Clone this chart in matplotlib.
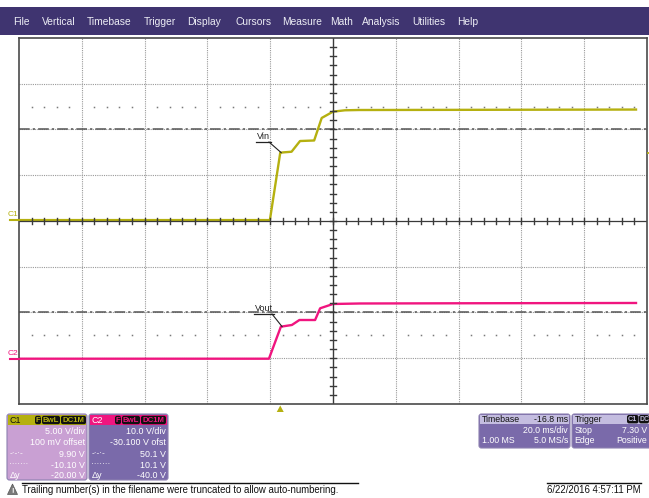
import matplotlib
matplotlib.use('Agg')
import matplotlib.pyplot as plt
from matplotlib.patches import Rectangle, FancyBboxPatch, Polygon
import numpy as np

plt.rcParams['font.family'] = ['Liberation Sans', 'DejaVu Sans']

# ---------------- data ----------------
menu_items = ['File', 'Vertical', 'Timebase', 'Trigger', 'Display', 'Cursors',
              'Measure', 'Math', 'Analysis', 'Utilities', 'Help']

vin_time_ms = [-83.2, -3.3, 0.0, 1.0, 3.6, 6.3, 10.8, 13.2, 16.8, 20.6, 25.0, 60.0, 113.3]
vin_V = [0.0, 0.0, 7.36, 7.40, 7.47, 8.64, 8.70, 11.16, 11.85, 12.00, 12.03, 12.05, 12.08]

vout_time_ms = [-83.2, -3.6, 0.2, 3.7, 6.1, 11.1, 12.7, 16.8, 25.4, 60.0, 113.3]
vout_V = [0.0, 0.0, 7.0, 7.37, 8.46, 8.46, 11.02, 11.96, 12.07, 12.12, 12.18]

c1_vdiv, c1_offset = 5.0, 0.1        # V/div, V
c2_vdiv, c2_offset = 10.0, -30.1
time_div_ms = 20.0
delay_ms = -16.8                     # trigger sits 16.8 ms left of centre
trigger_level_V = 7.30
cursor_c1 = [9.90, -10.10]
cursor_c2 = [50.1, 10.1]

c1_lines = ['5.00 V/div', '100 mV offset', '9.90 V', '-10.10 V', '-20.00 V']
c2_lines = ['10.0 V/div', '-30.100 V ofst', '50.1 V', '10.1 V', '-40.0 V']
row_keys = ['', '', '-·-·-', '·······', 'Δy']

# ---------------- colours ----------------
YEL = '#b5b010'
PINK = '#f0157f'
MENU = '#3f3470'
C1BODY = '#c9a0d3'
C2BODY = '#7a6aaa'

W, H = 649, 498
fig = plt.figure(figsize=(W / 100, H / 100), dpi=100)

L, T, R, B = 19, 38, 647, 404
ax = fig.add_axes([L / W, 1 - B / H, (R - L) / W, (B - T) / H])
ax.set_zorder(2)

ov = fig.add_axes([0, 0, 1, 1])
ov.set_xlim(0, W)
ov.set_ylim(H, 0)
ov.axis('off')
ov.set_zorder(3)
ov.patch.set_visible(False)

centre_t = -delay_ms
t0 = centre_t - 5 * time_div_ms
t1 = centre_t + 5 * time_div_ms
ax.set_xlim(t0, t1)
ax.set_ylim(-4, 4)
ax.set_xticks([])
ax.set_yticks([])
for s in ax.spines.values():
    s.set_color('#4a4a4a')
    s.set_linewidth(1.2)


def c1_div(v):
    return (np.asarray(v) + c1_offset) / c1_vdiv


def c2_div(v):
    return (np.asarray(v) + c2_offset) / c2_vdiv


# grid
for i in range(1, 10):
    if i != 5:
        ax.axvline(t0 + i * time_div_ms, color='#9a9a9a', lw=0.8, ls=(0, (1, 1)), zorder=1)
for j in range(-3, 4):
    if j != 0:
        ax.axhline(j, color='#9a9a9a', lw=0.8, ls=(0, (1, 1)), zorder=1)

# cursors (dash-dot)
for v in cursor_c2:
    ax.axhline(float(c2_div(v)), color='#555555', lw=1.1, ls=(0, (7, 2, 1.5, 2)), zorder=1.5)

# dotted rows at +-2.5 div
minor_t = [t0 + k * time_div_ms / 5 for k in range(1, 50) if k % 5 != 0]
for yy in (2.5, -2.5):
    ax.plot(minor_t, [yy] * len(minor_t), ls='none', marker='s', ms=1.1,
            mec='none', mfc='#7a7a7a', zorder=1.5)

# traces
ax.plot(vin_time_ms, c1_div(vin_V), color=YEL, lw=1.7, zorder=2, solid_joinstyle='round')
ax.plot(vout_time_ms, c2_div(vout_V), color=PINK, lw=1.7, zorder=2, solid_joinstyle='round')

# centre axes with minor ticks (drawn over traces, as on the scope)
ax.axhline(0, color='#3a3a3a', lw=0.9, zorder=2.5)
ax.axvline(centre_t, color='#3a3a3a', lw=1.0, zorder=2.5)
for t in [t0 + k * time_div_ms / 5 for k in range(1, 50)]:
    ax.plot([t, t], [-0.065, 0.065], color='#3a3a3a', lw=1.0, zorder=2.5)
for y in [-4 + k * 0.2 for k in range(1, 40)]:
    ax.plot([centre_t - 1.0, centre_t + 1.0], [y, y], color='#3a3a3a', lw=1.0, zorder=2.5)

fig.canvas.draw()


def d2p(t, y):
    X, Y = ax.transData.transform((t, y))
    return X, H - Y


# labels Vin / Vout with underline + leader
px, py = d2p(0.3, float(c1_div(7.37)))
ov.text(257, 140.5, 'Vin', fontsize=6.5, color='#222222', ha='left', va='bottom')
ov.plot([256, 271], [142, 142], color='#222222', lw=0.9)
ov.plot([269, px], [142, py], color='#222222', lw=0.8)

qx, qy = d2p(0.6, float(c2_div(7.0)))
ov.text(255, 312.5, 'Vout', fontsize=6.5, color='#222222', ha='left', va='bottom')
ov.plot([254, 274], [314, 314], color='#222222', lw=0.9)
ov.plot([272, qx], [314, qy], color='#222222', lw=0.8)

# channel markers on left
_, y1 = d2p(0, float(c1_div(0)))
ov.plot([10, L], [y1, y1], color=YEL, lw=1.5)
ov.text(8, y1 - 2, 'C1', fontsize=6, color=YEL, ha='left', va='bottom')
_, y2 = d2p(0, float(c2_div(0)))
ov.plot([10, L], [y2, y2], color=PINK, lw=1.5)
ov.text(8, y2 - 2, 'C2', fontsize=6, color=PINK, ha='left', va='bottom')

# trigger position / level markers
tx, _ = d2p(0.0, 0)
ov.add_patch(Polygon([[tx - 3.5, 412], [tx + 3.5, 412], [tx, 405.5]], closed=True,
                     fc=YEL, ec='none'))
_, ty = d2p(0, float(c1_div(trigger_level_V)))
ov.plot([R + 0.5, W], [ty, ty], color=YEL, lw=1.3)

# ---------------- menu bar ----------------
ov.add_patch(Rectangle((0, 7), W, 28, fc=MENU, ec='none'))
menu_x = [13, 42, 87, 144, 187, 235, 282, 330, 362, 412, 457]
for x, name in zip(menu_x, menu_items):
    ov.text(x, 21.5, name, fontsize=7.4, color='#ececf4', ha='left', va='center')


# ---------------- channel boxes ----------------
def badge(x0, x1, yc, text, tc, fs=5.6):
    ov.add_patch(FancyBboxPatch((x0, yc - 4.2), x1 - x0, 8.4,
                                boxstyle='round,pad=0,rounding_size=2',
                                fc='#111111', ec='none'))
    ov.text((x0 + x1) / 2, yc + 0.3, text, fontsize=fs, color=tc,
            ha='center', va='center', fontweight='bold')


def chan_box(x0, x1, body, head, label, labc, lines, badge_x):
    ov.add_patch(FancyBboxPatch((x0, 414), x1 - x0, 66,
                                boxstyle='round,pad=0,rounding_size=2.5',
                                fc=body, ec='#8c80b0', lw=0.8))
    ov.add_patch(Rectangle((x0 + 1, 415), x1 - x0 - 2, 10, fc=head, ec='none'))
    ov.text(x0 + 2.5, 420.3, label, fontsize=6.4, color=labc, ha='left', va='center')
    for (a, b), t in zip(badge_x, ['F', 'BwL', 'DC1M']):
        badge(a, b, 420, t, head)
    rows_y = [431, 442.5, 454, 465, 475.5]
    for yy, key, txt in zip(rows_y, row_keys, lines):
        ov.text(x1 - 2, yy, txt, fontsize=6.4, color='white', ha='right', va='center')
        if key:
            ov.text(x0 + 2.5, yy, key, fontsize=6.0 if key != 'Δy' else 6.6,
                    color='white', ha='left', va='center')


chan_box(7, 87, C1BODY, YEL, 'C1', '#111111', c1_lines,
         [(35, 41), (42, 60), (61, 86)])
chan_box(89, 168, C2BODY, PINK, 'C2', 'white', c2_lines,
         [(115, 121), (122, 140), (141, 166)])

# timebase box
ov.add_patch(FancyBboxPatch((479, 414), 91, 34, boxstyle='round,pad=0,rounding_size=2.5',
                            fc=C2BODY, ec='#8c80b0', lw=0.8))
ov.add_patch(Rectangle((480, 415), 89, 8.5, fc='#c4bde0', ec='none'))
ov.text(481.5, 419, 'Timebase', fontsize=6.3, color='#111111', ha='left', va='center')
ov.text(568, 419, '-16.8 ms', fontsize=6.3, color='#111111', ha='right', va='center')
ov.text(568, 430, '20.0 ms/div', fontsize=6.3, color='white', ha='right', va='center')
ov.text(481.5, 440.5, '1.00 MS', fontsize=6.3, color='white', ha='left', va='center')
ov.text(568, 440.5, '5.0 MS/s', fontsize=6.3, color='white', ha='right', va='center')

# trigger box
ov.add_patch(FancyBboxPatch((572, 414), 85, 34, boxstyle='round,pad=0,rounding_size=2.5',
                            fc=C2BODY, ec='#8c80b0', lw=0.8))
ov.add_patch(Rectangle((573, 415), 83, 8.5, fc='#c4bde0', ec='none'))
ov.text(574.5, 419, 'Trigger', fontsize=6.3, color='#111111', ha='left', va='center')
badge(627, 638.5, 419.2, 'C1', '#c4bde0', fs=5.2)
badge(639, 649, 419.2, 'DC', '#c4bde0', fs=5.0)
ov.text(574.5, 430, 'Stop', fontsize=6.3, color='white', ha='left', va='center')
ov.text(647.5, 430, '7.30 V', fontsize=6.3, color='white', ha='right', va='center')
ov.text(574.5, 440.5, 'Edge', fontsize=6.3, color='white', ha='left', va='center')
ov.text(647, 440.5, 'Positive', fontsize=6.3, color='white', ha='right', va='center')

# ---------------- status line ----------------
ov.add_patch(Polygon([[7.5, 494.5], [17.5, 494.5], [12.5, 484]], closed=True,
                     fc='#7a7a7a', ec='#555555', lw=0.5))
ov.text(12.5, 491, '!', fontsize=5.5, color='white', ha='center', va='center', fontweight='bold')
ov.plot([22, 358], [482.7, 482.7], color='#111111', lw=1.0)
ov.text(22, 489.5, 'Trailing number(s) in the filename were truncated to allow auto-numbering.',
        fontsize=6.9, color='#111111', ha='left', va='center')
ov.plot([547, 641], [482.7, 482.7], color='#111111', lw=1.0)
ov.text(547, 489.5, '6/22/2016 4:57:11 PM', fontsize=6.9, color='#111111', ha='left', va='center')

fig.savefig('out.png', dpi=100)
